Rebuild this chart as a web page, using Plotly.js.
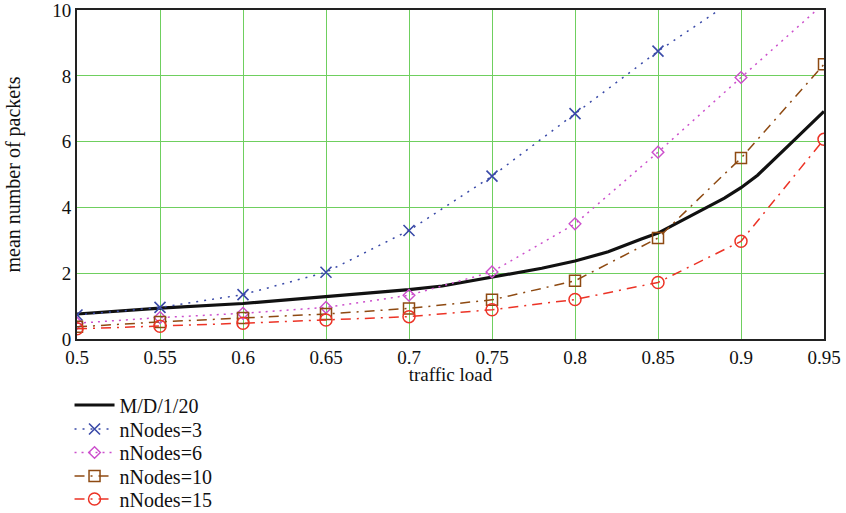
<!DOCTYPE html>
<html>
<head>
<meta charset="utf-8">
<script src="https://cdn.plot.ly/plotly-3.0.1.min.js"></script>
<style>html,body{margin:0;padding:0;background:#fff;}#chart{width:846px;height:513px;}</style>
</head>
<body>
<div id="chart"></div>
<script>
// Black analytic curve (M/D/1/20)
const loadMD1 = [0.50,0.55,0.60,0.65,0.70,0.72,0.75,0.78,0.80,0.82,0.84,0.85,0.87,0.89,0.90,0.91,0.93,0.95];
const md1 = [0.76,0.94,1.08,1.28,1.50,1.61,1.88,2.15,2.37,2.65,3.04,3.22,3.75,4.28,4.60,4.98,5.95,6.92];

// Simulation points
const load = [0.50,0.55,0.60,0.65,0.70,0.75,0.80,0.85,0.90,0.95];
const nNodes3 = [0.73,0.96,1.35,2.03,3.30,4.95,6.85,8.75,10.45];
const nNodes6 = [0.48,0.65,0.78,0.96,1.33,2.04,3.50,5.68,7.95,10.2];
const nNodes10 = [0.37,0.52,0.64,0.76,0.93,1.19,1.77,3.07,5.50,8.35];
const nNodes15 = [0.31,0.39,0.48,0.58,0.68,0.89,1.20,1.72,2.97,6.07];

const xTicks = [0.5,0.55,0.6,0.65,0.7,0.75,0.8,0.85,0.9,0.95];
const xTickText = ['0.5','0.55','0.6','0.65','0.7','0.75','0.8','0.85','0.9','0.95'];
const yTicks = [0,2,4,6,8,10];

const serif = "'Liberation Serif', 'Times New Roman', Times, serif";

const traces = [
  {x: loadMD1, y: md1, name: 'M/D/1/20', mode: 'lines', legend: 'legend',
   line: {color: '#111111', width: 3.2}},
  {x: load.slice(0, nNodes3.length), y: nNodes3, name: 'nNodes=3', mode: 'lines+markers', legend: 'legend2',
   line: {color: '#3a4aa8', width: 1.5, dash: '2px,6px'},
   marker: {symbol: 'x-thin-open', size: 11, color: '#3a4aa8', line: {width: 1.6, color: '#3a4aa8'}}},
  {x: load, y: nNodes6, name: 'nNodes=6', mode: 'lines+markers', legend: 'legend3',
   line: {color: '#cc4fcc', width: 1.5, dash: '2px,5px'},
   marker: {symbol: 'diamond-open', size: 9, color: '#cc4fcc', line: {width: 1.4, color: '#cc4fcc'}}},
  {x: load, y: nNodes10, name: 'nNodes=10', mode: 'lines+markers', legend: 'legend4',
   line: {color: '#8e4a12', width: 1.5, dash: '10px,6px,2px,6px'},
   marker: {symbol: 'square-open', size: 11, color: '#8e4a12', line: {width: 1.5, color: '#8e4a12'}}},
  {x: load, y: nNodes15, name: 'nNodes=15', mode: 'lines+markers', legend: 'legend5',
   line: {color: '#ec3326', width: 1.5, dash: '10px,6px,2px,6px'},
   marker: {symbol: 'circle-open', size: 12, color: '#ec3326', line: {width: 1.5, color: '#ec3326'}}}
];

function legendAt(yc) {
  return {xref: 'paper', x: -0.01, xanchor: 'left',
          yref: 'container', y: 1 - yc / 513, yanchor: 'middle',
          font: {family: serif, size: 20, color: '#111'},
          bgcolor: 'rgba(0,0,0,0)', itemwidth: 40};
}

const layout = {
  width: 846, height: 513,
  margin: {l: 77, r: 22, t: 10, b: 174},
  paper_bgcolor: '#ffffff', plot_bgcolor: '#ffffff',
  font: {family: serif, size: 19, color: '#111'},
  showlegend: true,
  legend: legendAt(405),
  legend2: legendAt(429),
  legend3: legendAt(452.5),
  legend4: legendAt(476),
  legend5: legendAt(499),
  xaxis: {
    range: [0.5, 0.95], tickvals: xTicks, ticktext: xTickText,
    showgrid: true, gridcolor: '#6fcf5f', gridwidth: 1,
    zeroline: false, showline: true, mirror: true, linecolor: '#222', linewidth: 2,
    ticks: '', ticklabeloverflow: 'allow', tickfont: {family: serif, size: 19, color: '#111'},
    title: {text: 'traffic load', font: {family: serif, size: 19, color: '#111'}, standoff: 16}
  },
  yaxis: {
    range: [0, 10.002], tickvals: yTicks,
    showgrid: true, gridcolor: '#6fcf5f', gridwidth: 1,
    zeroline: false, showline: true, mirror: true, linecolor: '#222', linewidth: 2,
    ticks: '', ticklabeloverflow: 'allow', tickfont: {family: serif, size: 19, color: '#111'},
    title: {text: 'mean number of packets', font: {family: serif, size: 20, color: '#111'}, standoff: 26}
  }
};

Plotly.newPlot('chart', traces, layout, {displayModeBar: false, staticPlot: true});
</script>
</body>
</html>
